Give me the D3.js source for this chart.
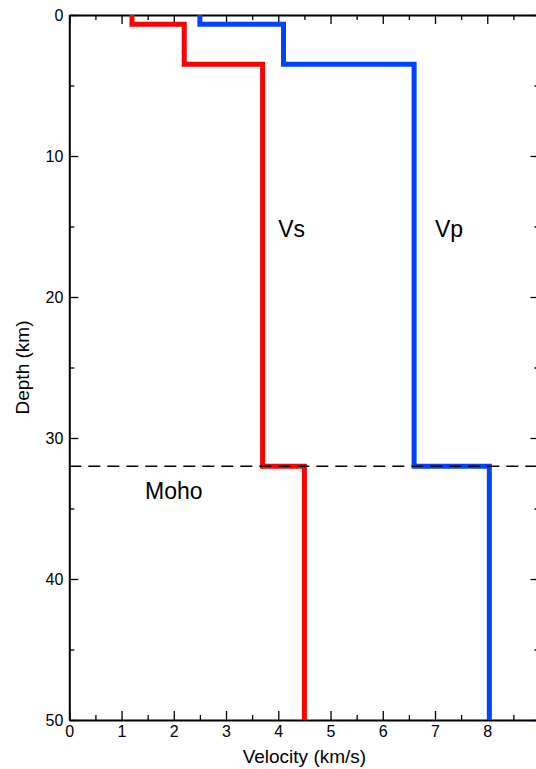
<!DOCTYPE html>
<html><head><meta charset="utf-8">
<script src="https://cdn.jsdelivr.net/npm/d3@7/dist/d3.min.js"></script>
<style>
html,body{margin:0;padding:0;background:#fff;overflow:hidden}
text{font-family:"Liberation Sans",Arial,sans-serif;fill:#000}
</style></head>
<body>
<script>
// Data (velocity km/s, depth km) — step model
const vsVel   = [1.2, 1.2, 2.2, 2.2, 3.7, 3.7, 4.5, 4.5];
const vsDepth = [0, 0.65, 0.65, 3.5, 3.5, 32, 32, 50];
const vpVel   = [2.5, 2.5, 4.1, 4.1, 6.6, 6.6, 8.04, 8.04];
const vpDepth = [0, 0.65, 0.65, 3.5, 3.5, 32, 32, 50];
const mohoDepth = 32;
const xTicks = [0,1,2,3,4,5,6,7,8,9];
const yTicks = [0,10,20,30,40,50];
const labels = [
  {text:"Vs", v:4.0, d:15.75},
  {text:"Vp", v:7.0, d:15.75},
  {text:"Moho", v:1.45, d:34.3}
];

const W=536,H=769;
const svg=d3.select("body").append("svg").attr("width",W).attr("height",H);
const x=d3.scaleLinear().domain([0,9]).range([69.3,539.5]);
const y=d3.scaleLinear().domain([0,50]).range([15,720]);

const minorX=d3.range(0.5,9,1);
const minorY=d3.range(5,50,10);

function drawAxis(axisFn, scale, major, minor, transform, labelsOn){
  const g=svg.append("g").attr("transform",transform);
  g.call(axisFn(scale).tickValues(minor).tickSizeInner(-5).tickSizeOuter(0).tickFormat(""));
  g.select(".domain").remove();
  const g2=svg.append("g").attr("transform",transform);
  g2.call(axisFn(scale).tickValues(major).tickSizeInner(-9).tickSizeOuter(0).tickPadding(12)
     .tickFormat(labelsOn?d3.format("d"):""));
  g2.select(".domain").attr("stroke-width",2);
  [g,g2].forEach(gg=>gg.selectAll(".tick line").attr("stroke","#000").attr("stroke-width",1.3));
  g2.selectAll("text").style("font-size","16px").attr("fill","#000");
  return g2;
}
const gb=drawAxis(d3.axisBottom,x,xTicks,minorX,`translate(0,${y(50)})`,true);
gb.selectAll("text").attr("dy","0.71em").attr("y",6);
drawAxis(d3.axisTop,x,xTicks,minorX,`translate(0,${y(0)})`,false);
const gl=drawAxis(d3.axisLeft,y,yTicks,minorY,`translate(${x(0)},0)`,true);
gl.selectAll("text").attr("x",-6);
drawAxis(d3.axisRight,y,yTicks,minorY,`translate(${x(9)},0)`,false);

const line=d3.line().x(d=>x(d[0])).y(d=>y(d[1]));
svg.append("path").datum(d3.zip(vsVel,vsDepth)).attr("d",line)
  .attr("fill","none").attr("stroke","#ff0000").attr("stroke-width",5).attr("stroke-linejoin","miter");
svg.append("path").datum(d3.zip(vpVel,vpDepth)).attr("d",line)
  .attr("fill","none").attr("stroke","#0043ff").attr("stroke-width",5).attr("stroke-linejoin","miter");
// Moho dashed line on top
svg.append("line").attr("x1",x(0)).attr("x2",W).attr("y1",y(mohoDepth)).attr("y2",y(mohoDepth))
  .attr("stroke","#000").attr("stroke-width",1.5).attr("stroke-dasharray","12,7");

svg.selectAll("text.lab").data(labels).enter().append("text").attr("class","lab")
  .attr("x",d=>x(d.v)).attr("y",d=>y(d.d)).style("font-size","23px").text(d=>d.text);

svg.append("text").attr("x",(x(0)+x(9))/2).attr("y",763).attr("text-anchor","middle")
  .style("font-size","19px").text("Velocity (km/s)");
svg.append("text").attr("transform",`translate(29,${(y(0)+y(50))/2}) rotate(-90)`).attr("text-anchor","middle")
  .style("font-size","19px").text("Depth (km)");
</script>
</body></html>
